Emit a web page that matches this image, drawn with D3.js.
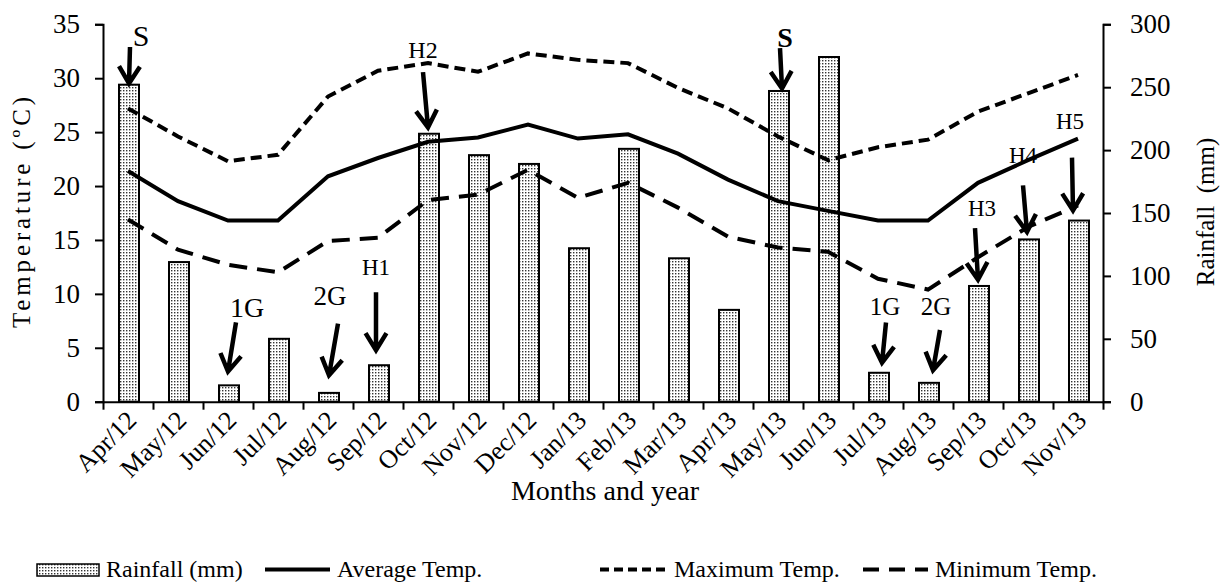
<!DOCTYPE html>
<html>
<head>
<meta charset="utf-8">
<script src="https://cdn.jsdelivr.net/npm/d3@7"></script>
<style>
  body { margin: 0; background: #fff; }
  svg { display: block; }
  svg text { font-family: "Liberation Serif", "Times New Roman", serif; }
</style>
</head>
<body>
<svg id="chart" width="1222" height="587"></svg>
<script>
const categories = ['Apr/12', 'May/12', 'Jun/12', 'Jul/12', 'Aug/12', 'Sep/12', 'Oct/12', 'Nov/12', 'Dec/12', 'Jan/13',
  'Feb/13', 'Mar/13', 'Apr/13', 'May/13', 'Jun/13', 'Jul/13', 'Aug/13', 'Sep/13', 'Oct/13', 'Nov/13']
const rainfall = [252, 111, 13, 50, 7, 29, 213, 196, 189, 122, 201, 114, 73, 247, 274, 23, 15, 92, 129, 144]
const avgTemp = [21.4, 18.6, 16.8, 16.8, 20.9, 22.6, 24.1, 24.5, 25.7, 24.4, 24.8, 23.0, 20.6, 18.6, 17.7, 16.8, 16.8, 20.3, 22.4, 24.4]
const maxTemp = [27.2, 24.6, 22.3, 22.9, 28.3, 30.7, 31.4, 30.6, 32.3, 31.7, 31.4, 29.1, 27.2, 24.6, 22.4, 23.6, 24.3, 26.9, 28.6, 30.3]
const minTemp = [16.9, 14.1, 12.7, 12.0, 14.9, 15.2, 18.7, 19.2, 21.5, 18.9, 20.3, 18.0, 15.3, 14.3, 13.9, 11.4, 10.4, 13.4, 16.2, 18.2]
const tempTicks = [0, 5, 10, 15, 20, 25, 30, 35]
const rainTicks = [0, 50, 100, 150, 200, 250, 300]

// arrows: category, label pos / tail / tip as [dx from category centre, rainfall units]
const notes = [
  { label: 'S', cat: 'Apr/12', text: [13, 283], tail: [2, 282], tip: [1, 253], size: 30 },
  { label: '1G', cat: 'Jun/12', text: [19, 67], tail: [8, 63], tip: [0, 24], size: 28 },
  { label: '2G', cat: 'Aug/12', text: [2, 77], tail: [10, 62], tip: [1, 21], size: 27 },
  { label: 'H1', cat: 'Sep/12', text: [-2, 101], tail: [-2, 87], tip: [-2, 41], size: 23 },
  { label: 'H2', cat: 'Oct/12', text: [-5, 273], tail: [-5, 262], tip: [0, 218], size: 24 },
  { label: 'S', cat: 'May/13', text: [7, 282], tail: [2, 281], tip: [4, 249], size: 28, bold: true },
  { label: '1G', cat: 'Jul/13', text: [7, 69], tail: [8, 63], tip: [4, 31], size: 25 },
  { label: '2G', cat: 'Aug/13', text: [8, 69], tail: [12, 57], tip: [5, 25], size: 25 },
  { label: 'H3', cat: 'Sep/13', text: [4, 148], tail: [-3, 138], tip: [0, 97], size: 23 },
  { label: 'H4', cat: 'Oct/13', text: [-5, 190], tail: [-5, 172], tip: [-1, 135], size: 23 },
  { label: 'H5', cat: 'Nov/13', text: [-8, 217], tail: [-6, 194], tip: [-5, 152], size: 23 }
]

const svg = d3.select('#chart')
const plotL = 103, plotR = 1103, plotT = 24.3, plotB = 401.7

const x = d3.scaleBand().domain(categories).range([plotL, plotR])
const xi = d3.scaleLinear().domain([0, categories.length]).range([plotL, plotR])
const yT = d3.scaleLinear().domain([0, 35]).range([plotB, plotT])
const yR = d3.scaleLinear().domain([0, 300]).range([plotB, plotT])
const cx = c => x(c) + x.bandwidth() / 2

// stipple fill for bars
const pat = svg.append('defs').append('pattern')
  .attr('id', 'dots').attr('patternUnits', 'userSpaceOnUse')
  .attr('width', 3).attr('height', 3)
pat.append('rect').attr('width', 3).attr('height', 3).attr('fill', '#fff')
pat.append('rect').attr('width', 1.4).attr('height', 1.4).attr('fill', '#333')

// bars
svg.append('g').selectAll('rect')
  .data(categories)
  .join('rect')
  .attr('x', c => cx(c) - 9)
  .attr('width', 20)
  .attr('y', (c, i) => yR(rainfall[i]))
  .attr('height', (c, i) => plotB - yR(rainfall[i]))
  .attr('fill', 'url(#dots)')
  .attr('stroke', '#000')
  .attr('stroke-width', 2)

// temperature lines
const series = [
  { values: avgTemp, dash: null },
  { values: maxTemp, dash: '11,6' },
  { values: minTemp, dash: '18,10' }
]
const line = d3.line().x((v, i) => cx(categories[i])).y(v => yT(v))
series.forEach(s => {
  svg.append('path')
    .attr('d', line(s.values))
    .attr('fill', 'none')
    .attr('stroke', '#000')
    .attr('stroke-width', 4)
    .attr('stroke-dasharray', s.dash)
})

// axes
const axisStyle = g => {
  g.attr('font-family', null).attr('font-size', 27)
  g.select('.domain').attr('stroke-width', 2)
  g.selectAll('.tick line').attr('stroke-width', 2)
  g.selectAll('text').attr('fill', '#000')
}
svg.append('g').attr('transform', `translate(${plotL},0)`)
  .call(d3.axisLeft(yT).tickValues(tempTicks).tickSize(8).tickSizeOuter(8).tickPadding(15))
  .call(axisStyle)
svg.append('g').attr('transform', `translate(${plotR},0)`)
  .call(d3.axisRight(yR).tickValues(rainTicks).tickSize(8).tickSizeOuter(8).tickPadding(19))
  .call(axisStyle)
svg.append('g').attr('transform', `translate(0,${plotB})`)
  .call(d3.axisBottom(xi).tickValues(d3.range(categories.length + 1)).tickSize(8).tickSizeOuter(0).tickFormat(''))
  .call(axisStyle)
const xLab = svg.append('g').attr('transform', `translate(0,${plotB})`)
  .call(d3.axisBottom(x).tickSize(0).tickPadding(0))
  .attr('font-family', null).attr('font-size', 26)
xLab.select('.domain').remove()
xLab.selectAll('text')
  .attr('fill', '#000')
  .attr('text-anchor', 'end')
  .attr('y', 0).attr('dy', 0)
  .attr('transform', 'translate(10,20) rotate(-45)')

// axis titles
svg.append('text')
  .attr('transform', `translate(30,212.5) rotate(-90)`)
  .attr('text-anchor', 'middle').attr('font-size', 25)
  .attr('textLength', 231).attr('lengthAdjust', 'spacing')
  .text('Temperature (ºC)')
svg.append('text')
  .attr('transform', `translate(1214,212) rotate(-90)`)
  .attr('text-anchor', 'middle').attr('font-size', 25)
  .style('white-space', 'pre')
  .text('Rainfall  (mm)')
svg.append('text')
  .attr('x', 605).attr('y', 500)
  .attr('text-anchor', 'middle').attr('font-size', 28)
  .text('Months and year')

// annotations
const arrows = svg.append('g')
notes.forEach(n => {
  const c = cx(n.cat)
  const x0 = c + n.tail[0], y0 = yR(n.tail[1])
  const x1 = c + n.tip[0], y1 = yR(n.tip[1])
  const a = Math.atan2(y1 - y0, x1 - x0)
  const w = 20, sp = 0.55
  const l = [x1 - w * Math.cos(a - sp), y1 - w * Math.sin(a - sp)]
  const r = [x1 - w * Math.cos(a + sp), y1 - w * Math.sin(a + sp)]
  arrows.append('path')
    .attr('d', `M${x0},${y0}L${x1},${y1}M${l[0]},${l[1]}L${x1},${y1}L${r[0]},${r[1]}`)
    .attr('fill', 'none').attr('stroke', '#000').attr('stroke-width', 4.5)
  arrows.append('text')
    .attr('x', c + n.text[0]).attr('y', yR(n.text[1]))
    .attr('text-anchor', 'middle').attr('font-size', n.size)
    .attr('font-weight', n.bold ? 'bold' : null)
    .text(n.label)
})

// legend
const legend = [
  { label: 'Rainfall (mm)', kind: 'bar', x: 37, tx: 106 },
  { label: 'Average Temp.', kind: 'line', dash: null, x: 265, tx: 337 },
  { label: 'Maximum Temp.', kind: 'line', dash: '9,5', x: 600, tx: 674 },
  { label: 'Minimum Temp.', kind: 'line', dash: '16,10', x: 863, tx: 935 }
]
const lg = svg.append('g')
legend.forEach(d => {
  if (d.kind === 'bar') {
    lg.append('rect').attr('x', d.x).attr('y', 564).attr('width', 62).attr('height', 12)
      .attr('fill', 'url(#dots)').attr('stroke', '#000').attr('stroke-width', 1.5)
  } else {
    lg.append('line').attr('x1', d.x).attr('x2', d.x + 65).attr('y1', 569.5).attr('y2', 569.5)
      .attr('stroke', '#000').attr('stroke-width', 4).attr('stroke-dasharray', d.dash)
  }
  lg.append('text').attr('x', d.tx).attr('y', 577).attr('font-size', 24).text(d.label)
})
</script>
</body>
</html>
